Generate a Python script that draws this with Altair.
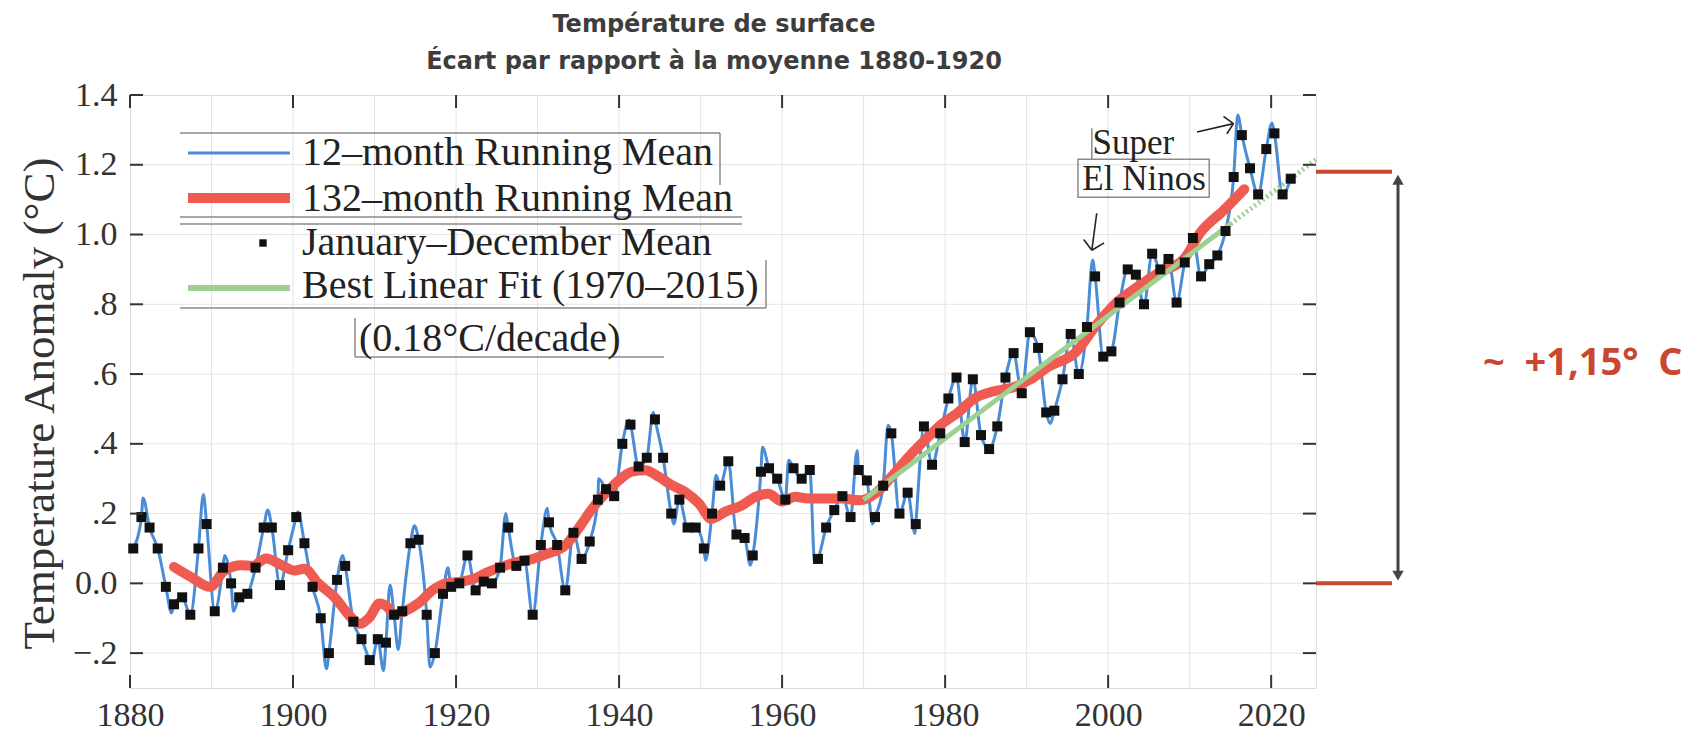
import altair as alt
import pandas as pd

# ---------------- data ----------------
YEARS = list(range(1880, 2023))
ANNUAL = [
    0.10, 0.19, 0.16, 0.10, -0.01, -0.06, -0.04, -0.09, 0.10, 0.17,        # 1880s
    -0.08, 0.045, 0.00, -0.04, -0.03, 0.045, 0.16, 0.16, -0.005, 0.095,    # 1890s
    0.19, 0.115, -0.01, -0.10, -0.20, 0.01, 0.05, -0.11, -0.16, -0.22,     # 1900s
    -0.16, -0.17, -0.09, -0.08, 0.115, 0.125, -0.09, -0.20, -0.03, -0.01,  # 1910s
    0.00, 0.08, -0.02, 0.005, 0.00, 0.045, 0.16, 0.05, 0.065, -0.09,       # 1920s
    0.11, 0.175, 0.11, -0.02, 0.145, 0.07, 0.12, 0.24, 0.27, 0.25,         # 1930s
    0.40, 0.455, 0.335, 0.36, 0.47, 0.36, 0.20, 0.24, 0.16, 0.16,          # 1940s
    0.10, 0.20, 0.28, 0.35, 0.14, 0.13, 0.08, 0.32, 0.33, 0.30,            # 1950s
    0.24, 0.33, 0.30, 0.325, 0.07, 0.16, 0.21, 0.25, 0.19, 0.325,          # 1960s
    0.295, 0.19, 0.28, 0.43, 0.20, 0.26, 0.17, 0.45, 0.34, 0.43,           # 1970s
    0.53, 0.59, 0.405, 0.585, 0.425, 0.385, 0.45, 0.59, 0.66, 0.545,       # 1980s
    0.72, 0.675, 0.49, 0.495, 0.585, 0.715, 0.60, 0.735, 0.88, 0.65,       # 1990s
    0.665, 0.805, 0.90, 0.885, 0.80, 0.945, 0.90, 0.93, 0.805, 0.92,       # 2000s
    0.99, 0.88, 0.915, 0.94, 1.01, 1.165, 1.285, 1.19, 1.115, 1.245,       # 2010s
    1.29, 1.115, 1.16,                                                     # 2020-2022
]

# extra turning points of the 12-month running mean (between annual means)
BLUE_PEAK_X = [1881.6, 1885.1, 1889.0, 1891.6, 1892.7, 1896.9, 1900.6, 1904.1, 1906.1,
               1909.6, 1911.1, 1911.9, 1912.9, 1914.9, 1916.8, 1919.0, 1926.1, 1931.2,
               1937.5, 1941.2, 1944.2, 1946.7, 1950.6, 1951.9, 1956.1, 1957.6, 1960.8,
               1964.0, 1969.2, 1971.1, 1973.0, 1976.3, 1992.9, 1998.1, 2015.9, 2020.1]
BLUE_PEAK_Y = [0.245, -0.085, 0.255, 0.08, -0.08, 0.21, 0.205, -0.245, 0.08,
               -0.23, -0.25, -0.005, -0.19, 0.165, -0.24, 0.045, 0.20, 0.215,
               0.30, 0.468, 0.49, 0.17, 0.066, 0.31, 0.052, 0.39, 0.353,
               0.06, 0.38, 0.17, 0.453, 0.143, 0.458, 0.927, 1.343, 1.32]

RED_X = [1885.4, 1887.5, 1889.8, 1891.6, 1893.7, 1895.0, 1896.7, 1898.6, 1900.2, 1901.4,
         1903.1, 1905.1, 1907.1, 1908.2, 1909.4, 1910.6, 1911.6, 1912.4, 1913.7, 1915.5,
         1917.1, 1918.8, 1920.3, 1922.4, 1923.7, 1925.3, 1927.3, 1929.4, 1931.2, 1933.4,
         1935.1, 1936.7, 1938.3, 1940.0, 1941.6, 1943.2, 1944.9, 1946.5, 1948.1, 1949.8,
         1951.3, 1953.0, 1955.1, 1956.7, 1958.3, 1960.0, 1961.6, 1963.2, 1965.3, 1967.3,
         1969.6, 1971.4, 1973.4, 1975.5, 1977.5, 1979.5, 1981.6, 1983.6, 1985.7, 1988.5,
         1990.5, 1992.6, 1995.9, 1998.7, 2000.8, 2003.6, 2006.1, 2009.3, 2011.3, 2014.2,
         2016.7]
RED_Y = [0.047, 0.018, -0.01, 0.037, 0.052, 0.05, 0.071, 0.052, 0.037, 0.042,
         0.0, -0.04, -0.097, -0.116, -0.097, -0.058, -0.068, -0.09, -0.08, -0.055,
         -0.02, 0.0, 0.004, 0.015, 0.03, 0.045, 0.06, 0.07, 0.085, 0.109,
         0.16, 0.214, 0.257, 0.296, 0.32, 0.324, 0.305, 0.281, 0.262, 0.229,
         0.185, 0.205, 0.224, 0.248, 0.257, 0.235, 0.248, 0.243, 0.243, 0.243,
         0.238, 0.257, 0.305, 0.362, 0.41, 0.455, 0.49, 0.53, 0.549, 0.563,
         0.585, 0.62, 0.66, 0.745, 0.80, 0.85, 0.889, 0.93, 1.005, 1.07,
         1.13]

FIT_X = [1970, 2015]
FIT_Y = [0.24, 1.03]
EXT_X = [2015, 2025.5]
EXT_Y = [1.03, 1.215]

X_TICKS = [1880, 1900, 1920, 1940, 1960, 1980, 2000, 2020]
Y_TICKS = [-0.2, 0.0, 0.2, 0.4, 0.6, 0.8, 1.0, 1.2, 1.4]
X_GRID = [1890, 1900, 1910, 1920, 1930, 1940, 1950, 1960, 1970, 1980, 1990, 2000, 2010, 2020]
Y_GRID = [-0.2, 0.0, 0.2, 0.4, 0.6, 0.8, 1.0, 1.2]
BRACKET_VALUES = [0.0, 1.18]

# arrows of the "Super El Ninos" note (segments in data units)
ARROW_X1 = [1998.6, 1997.0, 1999.5, 2010.9, 2014.15, 2014.57]
ARROW_Y1 = [1.061, 0.986, 0.976, 1.294, 1.339, 1.289]
ARROW_X2 = [1998.0, 1998.0, 1998.0, 2015.37, 2015.37, 2015.37]
ARROW_Y2 = [0.955, 0.955, 0.955, 1.318, 1.318, 1.318]
NOTE_TEXT = ["Super", "El Ninos"]
NOTE_X = [2003.1, 2004.4]
NOTE_Y = [1.262, 1.158]
BOX_X = [1996.3, 2012.4]
BOX_Y = [1.216, 1.107]

TITLE_LINES = ["Température de surface", "Écart par rapport à la moyenne 1880-1920"]
LEGEND_LABELS = ["12–month Running Mean", "132–month Running Mean",
                 "January–December Mean", "Best Linear Fit (1970–2015)"]
DECADE_NOTE = "(0.18°C/decade)"
Y_TITLE = "Temperature Anomaly (°C)"
BIG_NOTE = "~\u00a0\u00a0+1,15°\u00a0\u00a0C"
BIG_NOTE_VALUE = 0.628

# ---------------- tables ----------------
annual_df = pd.DataFrame({"year": YEARS, "anom": ANNUAL})
blue_df = pd.concat([
    pd.DataFrame({"x": [y + 0.4 for y in YEARS], "v": ANNUAL}),
    pd.DataFrame({"x": BLUE_PEAK_X, "v": BLUE_PEAK_Y}),
]).sort_values("x").reset_index(drop=True)
red_df = pd.DataFrame({"x": RED_X, "v": RED_Y})
fit_df = pd.DataFrame({"x": FIT_X, "v": FIT_Y})
ext_df = pd.DataFrame({"x": EXT_X, "v": EXT_Y})
xgrid_df = pd.DataFrame({"x": X_GRID})
ygrid_df = pd.DataFrame({"v": Y_GRID})
xtick_df = pd.DataFrame({"x": X_TICKS})
ytick_df = pd.DataFrame({"v": Y_TICKS})
bracket_df = pd.DataFrame({"v": BRACKET_VALUES})
arrow_df = pd.DataFrame({"x": ARROW_X1, "y": ARROW_Y1, "x2": ARROW_X2, "y2": ARROW_Y2})
note_df = pd.DataFrame({"x": NOTE_X, "v": NOTE_Y, "t": NOTE_TEXT})
box_df = pd.DataFrame({"x": [BOX_X[0]], "x2": [BOX_X[1]], "v": [BOX_Y[0]], "v2": [BOX_Y[1]]})
super_bar_df = pd.DataFrame({"x": [1998.0], "v": [1.305], "v2": [1.216]})
shaft_df = pd.DataFrame({"v": [BRACKET_VALUES[1] - 0.02], "v2": [BRACKET_VALUES[0] + 0.02]})
head_df = pd.DataFrame({"v": [BRACKET_VALUES[1] - 0.023, BRACKET_VALUES[0] + 0.022],
                        "s": ["triangle-up", "triangle-down"]})
big_df = pd.DataFrame({"v": [BIG_NOTE_VALUE], "t": [BIG_NOTE]})
ONE = pd.DataFrame({"k": [0]})

W, H = 1186, 593
xs = alt.Scale(domain=[1880, 2025.5], nice=False, zero=False)
ys = alt.Scale(domain=[-0.3, 1.4], nice=False, zero=False)

SERIF = "Liberation Serif"
INK = "#333333"
BLUE = "#4a8dd6"
RED = "#ef5b50"
GREEN = "#9cd192"
NOTE_RED = "#c9472f"

x_axis = alt.Axis(values=X_TICKS, format="d", title=None, labelFont=SERIF, labelFontSize=34,
                  labelColor=INK, labelPadding=10, labelFlush=False, labelOverlap=False,
                  ticks=False, domain=False, grid=False)
y_axis = alt.Axis(values=Y_TICKS, title=Y_TITLE, titleFont=SERIF, titleFontSize=45,
                  titleFontWeight="normal", titleColor=INK, titlePadding=10, titleY=308,
                  labelFont=SERIF, labelFontSize=34, labelColor=INK, labelPadding=13,
                  labelOverlap=False, ticks=False, domain=False, grid=False,
                  labelExpr="datum.value == 0 ? '0.0' : (abs(datum.value) < 1 ? "
                            "replace(format(datum.value, '.1f'), '0.', '.') : format(datum.value, '.1f'))")


def X(f):
    return alt.X(f, type="quantitative", scale=xs, axis=x_axis)


def Y(f):
    return alt.Y(f, type="quantitative", scale=ys, axis=y_axis)


layers = []
# grid
layers.append(alt.Chart(xgrid_df).mark_rule(color="#e4e4e4", strokeWidth=1).encode(x=X("x")))
layers.append(alt.Chart(ygrid_df).mark_rule(color="#e4e4e4", strokeWidth=1).encode(y=Y("v")))
# 12-month running mean
layers.append(alt.Chart(blue_df).mark_line(color=BLUE, strokeWidth=3, interpolate="monotone")
              .encode(x=X("x"), y=Y("v")))
# 132-month running mean
layers.append(alt.Chart(red_df).mark_line(color=RED, strokeWidth=10, strokeCap="round",
                                          interpolate="monotone")
              .encode(x=X("x"), y=Y("v")))
# linear fit
layers.append(alt.Chart(fit_df).mark_line(color=GREEN, strokeWidth=5).encode(x=X("x"), y=Y("v")))
layers.append(alt.Chart(ext_df).mark_line(color=GREEN, strokeWidth=5, strokeDash=[2, 3])
              .encode(x=X("x"), y=Y("v")))
# annual means
layers.append(alt.Chart(annual_df).transform_calculate(x="datum.year + 0.4")
              .mark_square(size=100, color="#111111", opacity=1)
              .encode(x=X("x"), y=Y("anom")))
# inward ticks (MATLAB style)
TK = 13
layers.append(alt.Chart(ytick_df).mark_rule(color=INK, strokeWidth=2)
              .encode(y=Y("v"), x=alt.value(0), x2=alt.value(TK)))
layers.append(alt.Chart(ytick_df).mark_rule(color=INK, strokeWidth=2)
              .encode(y=Y("v"), x=alt.value(W - TK), x2=alt.value(W)))
layers.append(alt.Chart(xtick_df).mark_rule(color=INK, strokeWidth=2)
              .encode(x=X("x"), y=alt.value(H - TK), y2=alt.value(H)))
layers.append(alt.Chart(xtick_df).mark_rule(color=INK, strokeWidth=2)
              .encode(x=X("x"), y=alt.value(0), y2=alt.value(TK)))


# ---------------- legend (drawn) ----------------
def seg(x1, y1, x2, y2, color="#8a8a8a", width=1.5):
    return alt.Chart(ONE).mark_rule(color=color, strokeWidth=width).encode(
        x=alt.value(x1), y=alt.value(y1), x2=alt.value(x2), y2=alt.value(y2))


def label(x, y, txt, size=40, align="left"):
    return alt.Chart(ONE).mark_text(align=align, baseline="alphabetic", font=SERIF,
                                    fontSize=size, color="#222222").encode(
        x=alt.value(x), y=alt.value(y), text=alt.value(txt))


layers += [
    seg(50, 38, 590, 38), seg(590, 38, 590, 90),
    seg(50, 122, 612, 122), seg(50, 129, 612, 129),
    seg(50, 213, 636, 213), seg(636, 165, 636, 213),
    seg(225, 223, 225, 262), seg(225, 262, 534, 262),
    seg(58, 58, 160, 58, BLUE, 3),
    seg(58, 103, 160, 103, RED, 10),
    seg(58, 193, 160, 193, GREEN, 6),
    alt.Chart(ONE).mark_square(size=55, color="#111111", opacity=1)
    .encode(x=alt.value(133), y=alt.value(148)),
    label(172, 70, LEGEND_LABELS[0]),
    label(172, 116, LEGEND_LABELS[1]),
    label(172, 160, LEGEND_LABELS[2]),
    label(172, 203, LEGEND_LABELS[3]),
    label(229, 256, DECADE_NOTE),
]

# ---------------- Super El Ninos note ----------------
layers.append(alt.Chart(arrow_df).mark_rule(color="#222222", strokeWidth=1.6)
              .encode(x=X("x"), y=Y("y"), x2="x2:Q", y2="y2:Q"))
layers.append(alt.Chart(box_df).mark_rect(fillOpacity=0, stroke="#8a8a8a", strokeWidth=1.5)
              .encode(x=X("x"), x2="x2:Q", y=Y("v"), y2="v2:Q"))
layers.append(alt.Chart(super_bar_df).mark_rule(color="#8a8a8a", strokeWidth=1.5)
              .encode(x=X("x"), y=Y("v"), y2="v2:Q"))
layers.append(alt.Chart(note_df).mark_text(font=SERIF, fontSize=35, color="#222222",
                                           baseline="middle")
              .encode(x=X("x"), y=Y("v"), text="t:N"))

# ---------------- +1,15 °C bracket ----------------
layers.append(alt.Chart(bracket_df).mark_rule(color=NOTE_RED, strokeWidth=4)
              .encode(y=Y("v"), x=alt.value(W), x2=alt.value(W + 76)))
layers.append(alt.Chart(shaft_df).mark_rule(color="#444444", strokeWidth=3)
              .encode(x=alt.value(W + 82), y=Y("v"), y2="v2:Q"))
layers.append(alt.Chart(head_df).mark_point(filled=True, size=130, color="#444444", opacity=1)
              .encode(x=alt.value(W + 82), y=Y("v"),
                      shape=alt.Shape("s:N", scale=None, legend=None)))
layers.append(alt.Chart(big_df).mark_text(align="left", baseline="middle", font="Open Sans",
                                          fontWeight="bold", fontSize=38, color=NOTE_RED)
              .encode(x=alt.value(W + 167), y=Y("v"), text="t:N"))

chart = alt.layer(*layers).properties(
    width=W, height=H,
    padding={"left": 122, "top": 87, "right": 366, "bottom": 48},
    autosize=alt.AutoSizeParams(type="none"),
    title=alt.TitleParams(text=TITLE_LINES, font="DejaVu Sans", fontSize=24, fontWeight="bold",
                          color="#3d3d3d", anchor="middle", frame="group", offset=4,
                          lineHeight=37, dx=-9),
).configure_view(stroke="#333333", strokeWidth=2).configure(background="white")

chart.save("out.html", embed_options={"renderer": "svg", "actions": False})
